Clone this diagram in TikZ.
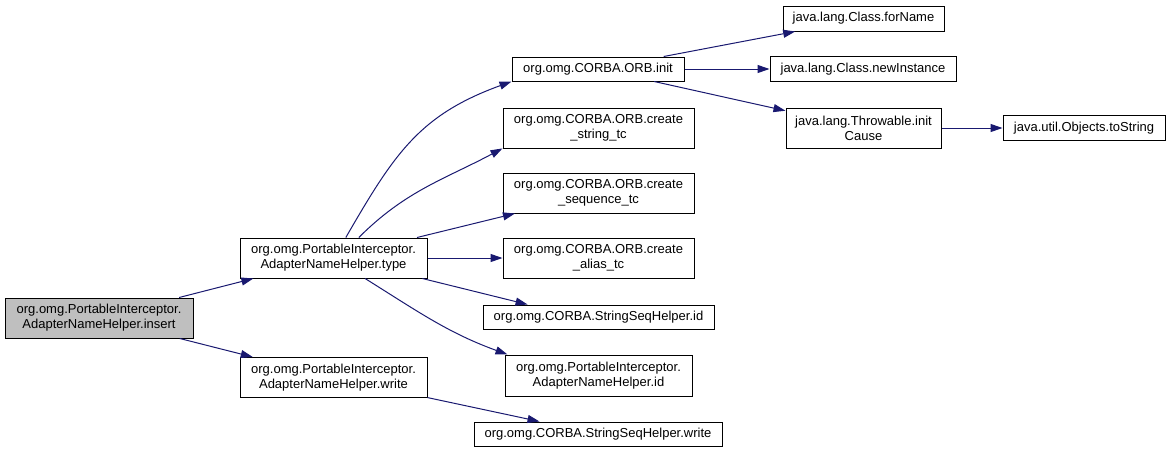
\documentclass[tikz,border=0pt]{standalone}
\usepackage{fontspec}
\setmainfont{Liberation Sans}
\usetikzlibrary{arrows.meta}
\definecolor{edgeblue}{HTML}{191970}
\definecolor{rootgray}{HTML}{BFBFBF}
\begin{document}
\begin{tikzpicture}[x=1pt, y=1pt, font=\fontsize{13}{15}\selectfont, >={Triangle[length=12pt,width=8pt]},
		fn/.style={draw=black, fill=white, line width=1pt, align=center, inner sep=0pt, minimum height=25pt},
		fntwo/.style={fn, minimum height=40pt},
		edge/.style={->, draw=edgeblue, line width=1pt}]
		
		\useasboundingbox (0,0) rectangle (1172,-453);
		
		\node[fntwo, fill=rootgray, minimum width=188pt] (insert) at (99,-318) {org.omg.PortableInterceptor.\\AdapterNameHelper.insert};
		\node[fntwo, minimum width=187pt] (type) at (333.5,-258) {org.omg.PortableInterceptor.\\AdapterNameHelper.type};
		\node[fntwo, minimum width=187pt] (write) at (333.5,-377.5) {org.omg.PortableInterceptor.\\AdapterNameHelper.write};
		
		\node[fn, minimum width=172pt, minimum height=24pt] (init) at (598,-69) {org.omg.CORBA.ORB.init};
		\node[fntwo, minimum width=191pt] (strtc) at (598.5,-128) {org.omg.CORBA.ORB.create\\\_string\_tc};
		\node[fntwo, minimum width=191pt] (seqtc) at (598.5,-193) {org.omg.CORBA.ORB.create\\\_sequence\_tc};
		\node[fntwo, minimum width=191pt] (aliastc) at (598.5,-258) {org.omg.CORBA.ORB.create\\\_alias\_tc};
		\node[fn, minimum width=231pt, minimum height=24pt] (ssid) at (598.5,-317) {org.omg.CORBA.StringSeqHelper.id};
		\node[fntwo, minimum width=187pt, minimum height=41pt] (anid) at (598.5,-375.5) {org.omg.PortableInterceptor.\\AdapterNameHelper.id};
		\node[fn, minimum width=248pt, minimum height=24pt] (sswrite) at (598,-434) {org.omg.CORBA.StringSeqHelper.write};
		
		\node[fn, minimum width=161pt] (forname) at (863.5,-18.5) {java.lang.Class.forName};
		\node[fn, minimum width=186pt] (newinst) at (863,-69) {java.lang.Class.newInstance};
		\node[fntwo, minimum width=155pt] (initcause) at (863.5,-128) {java.lang.Throwable.init\\Cause};
		\node[fn, minimum width=162pt] (tostring) at (1084,-128) {java.util.Objects.toString};
		
		\foreach \a/\b in {insert/type, insert/write, type/seqtc, type/aliastc, write/sswrite,
			init/forname, init/newinst, init/initcause, initcause/tostring}
			\draw[edge] (\a) -- (\b);
		
		\draw[edge] (type.59) to[out=60, in=200, looseness=1.1] (init.south west);
		\draw[edge] (type.39) to[out=45, in=208] (strtc.192);
		\draw[edge] (type.-13) -- (ssid.170);
		\draw[edge] (type.-33) to[out=-32, in=160] (anid.167);
		
	\end{tikzpicture}
\end{document}
